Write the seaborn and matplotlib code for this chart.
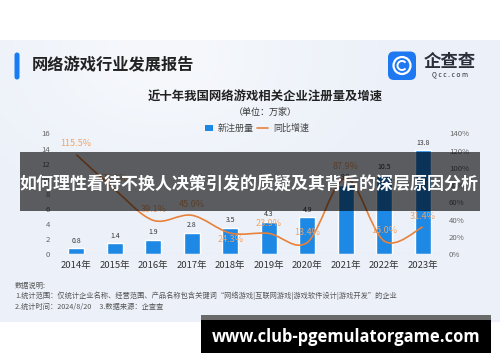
import numpy as np
import pandas as pd
import matplotlib
matplotlib.use("Agg")
import matplotlib.pyplot as plt
import seaborn as sns
from matplotlib.patches import Rectangle, FancyBboxPatch, PathPatch, Circle, Arc
from matplotlib.path import Path

# ---------------- data ----------------
years = ["2014年", "2015年", "2016年", "2017年", "2018年",
         "2019年", "2020年", "2021年", "2022年", "2023年"]
registrations = [0.8, 1.4, 1.9, 2.8, 3.5, 4.3, 4.9, 9.2, 10.5, 13.8]   # 万家
growth = [115.5, 75.0, 39.1, 45.0, 24.3, 23.9, 13.4, 87.9, 15.0, 31.4]  # %
left_ticks = [0, 2, 4, 6, 8, 10, 12, 14, 16]
right_ticks = [0, 20, 40, 60, 80, 100, 120, 140]
right_tick_labels = [f"{t}%" for t in right_ticks]

# ---------------- style ----------------
sns.set_theme(style="white")
plt.rcParams["font.family"] = ["Noto Sans CJK SC", "DejaVu Sans"]

BAR = "#1E88E5"
LINE = "#E8813A"
LABEL_OR = "#EFA46C"

fig = plt.figure(figsize=(5, 3.62), dpi=100)
fig.patch.set_facecolor("white")

# background (pixel coordinates)
bg = fig.add_axes([0, 0, 1, 1], zorder=-10)
bg.set_xlim(0, 500); bg.set_ylim(362, 0); bg.axis("off")
yy, xx = np.mgrid[0:100, 0:140]
spot = np.exp(-(((xx - 45) / 40.0) ** 2 + ((yy - 5) / 35.0) ** 2))
base = np.array([236, 241, 249]) / 255.0
light = np.array([246, 248, 252]) / 255.0
img = base[None, None, :] * (1 - spot[..., None]) + light[None, None, :] * spot[..., None]
bg.imshow(img, extent=(0, 500, 322, 40), aspect="auto", zorder=0, interpolation="bilinear")

# header
bg.add_patch(FancyBboxPatch((14.5, 52.5), 5, 27, boxstyle="round,pad=0,rounding_size=2.5",
                            facecolor="#1A7CF5", edgecolor="none", zorder=2))
bg.text(32, 65, "网络游戏行业发展报告", fontsize=11.7, fontweight="bold",
        color="#222222", ha="left", va="center", zorder=3)
# logo
bg.add_patch(FancyBboxPatch((388, 51.5), 28, 28.5, boxstyle="round,pad=0,rounding_size=6",
                            facecolor="#1E78F2", edgecolor="none", zorder=2))
bg.add_patch(Circle((402, 65.5), 8.5, facecolor="none", edgecolor="white", lw=1.6, zorder=3))
bg.add_patch(Arc((402, 65.5), 9, 9, theta1=40, theta2=320, edgecolor="white", lw=1.4, zorder=3))
bg.text(450, 61.5, "企查查", fontsize=12.5, fontweight="bold", color="#2B2F3A",
        ha="center", va="center", zorder=3)
bg.text(450, 74.5, "Q c c . c o m", fontsize=4.8, color="#2B2F3A",
        ha="center", va="center", zorder=3)

# chart titles
bg.text(265, 97, "近十年我国网络游戏相关企业注册量及增速", fontsize=8.9, fontweight="bold",
        color="#222222", ha="center", va="center", zorder=3)
bg.text(265, 112.5, "（单位：万家）", fontsize=6.5, color="#333333",
        ha="center", va="center", zorder=3)
# legend
bg.add_patch(Rectangle((205, 124.5), 8, 6.5, facecolor=BAR, edgecolor="none", zorder=3))
bg.text(218, 128, "新注册量", fontsize=6.5, color="#444444", ha="left", va="center", zorder=3)
bg.plot([257, 268], [128, 128], color=LINE, lw=1.2, zorder=3)
bg.text(273, 128, "同比增速", fontsize=6.5, color="#444444", ha="left", va="center", zorder=3)

# notes
bg.text(15, 285.5, "数据说明:", fontsize=5.2, color="#555555", ha="left", va="center", zorder=3)
bg.text(15, 296, "1.统计范围：仅统计企业名称、经营范围、产品名称包含关键词“网络游戏|互联网游戏|游戏软件设计|游戏开发”的企业",
        fontsize=5.2, color="#555555", ha="left", va="center", zorder=3)
bg.text(15, 306.5, "2.统计时间：2024/8/20     3.数据来源：企查查", fontsize=5.2,
        color="#555555", ha="left", va="center", zorder=3)

# ---------------- chart ----------------
ax = fig.add_axes([57 / 500, 108 / 362, 385 / 500, 120.5 / 362], zorder=0)
ax.set_facecolor("none")
df = pd.DataFrame({"year": years, "count": registrations})
sns.barplot(data=df, x="year", y="count", color=BAR, saturation=1, width=0.42, ax=ax)
ax.set_xlim(-0.5, len(years) - 0.5)
ax.set_ylim(0, 16)
ax.set_yticks(left_ticks)
ax.set_xlabel(""); ax.set_ylabel("")
for s in ax.spines.values():
    s.set_visible(False)
ax.axhline(0, color="#D6DCE6", lw=0.8, zorder=1)
ax.tick_params(axis="y", length=0, labelsize=5.6, labelcolor="#666666", pad=5)
ax.tick_params(axis="x", length=0, labelsize=6.8, labelcolor="#333333", pad=5)
ax.bar_label(ax.containers[0], labels=[f"{v}" for v in registrations],
             padding=2.5, fontsize=5, color="#333333")

ax2 = ax.twinx()
ax2.set_ylim(0, 140)
ax2.set_yticks(right_ticks)
ax2.set_yticklabels(right_tick_labels)
for s in ax2.spines.values():
    s.set_visible(False)
ax2.tick_params(axis="y", length=0, labelsize=5.6, labelcolor="#666666", pad=5)
ax2.grid(False); ax.grid(False)

# smooth growth line (Catmull-Rom through the data points)
xs = np.arange(len(growth), dtype=float)
ys = np.array(growth, dtype=float)
px = np.concatenate([[xs[0]], xs, [xs[-1]]])
py = np.concatenate([[ys[0]], ys, [ys[-1]]])
verts = [(xs[0], ys[0])]
codes = [Path.MOVETO]
for i in range(1, len(px) - 2):
    c1 = (px[i] + (px[i + 1] - px[i - 1]) / 6, py[i] + (py[i + 1] - py[i - 1]) / 6)
    c2 = (px[i + 1] - (px[i + 2] - px[i]) / 6, py[i + 1] - (py[i + 2] - py[i]) / 6)
    verts += [c1, c2, (px[i + 1], py[i + 1])]
    codes += [Path.CURVE4] * 3
ax2.add_patch(PathPatch(Path(verts, codes), facecolor="none", edgecolor=LINE, lw=1.2, zorder=3))

label_dy = [8, 8, 7.5, 8, -4.5, 7.5, 7.5, 8.5, 7.5, 7.5]
for i, g in enumerate(growth):
    ax2.annotate(f"{g}%", (i, g), xytext=(0, label_dy[i]), textcoords="offset points",
                 ha="center", va="center", fontsize=6.5, color=LABEL_OR, zorder=4)

# ---------------- overlays ----------------
ov = fig.add_axes([0, 0, 1, 1], zorder=10)
ov.set_xlim(0, 500); ov.set_ylim(362, 0); ov.axis("off"); ov.patch.set_alpha(0)
ov.add_patch(Rectangle((20, 152), 460, 59, facecolor="black", alpha=0.62, edgecolor="none"))
t_banner = ov.text(249, 183.5, "如何理性看待不换人决策引发的质疑及其背后的深层原因分析",
                   fontsize=12.2, fontweight="bold", color="white", ha="center", va="center")

ov.add_patch(Rectangle((201, 315), 290, 38, facecolor="black", edgecolor="none"))
ov.add_patch(Rectangle((201, 315), 290, 5, facecolor="#6A6A6A", edgecolor="none"))
t_wm = ov.text(346, 337.5, "www.club-pgemulatorgame.com", fontsize=12,
               fontweight="bold", color="white", ha="center", va="center",
               family=["Open Sans", "DejaVu Sans"])

# fit widths of overlay texts
fig.canvas.draw()
r = fig.canvas.get_renderer()
for t, target in [(t_banner, 456), (t_wm, 268)]:
    w = t.get_window_extent(r).width
    t.set_fontsize(t.get_fontsize() * target / w)

fig.savefig("out.png", dpi=100, facecolor="white")
